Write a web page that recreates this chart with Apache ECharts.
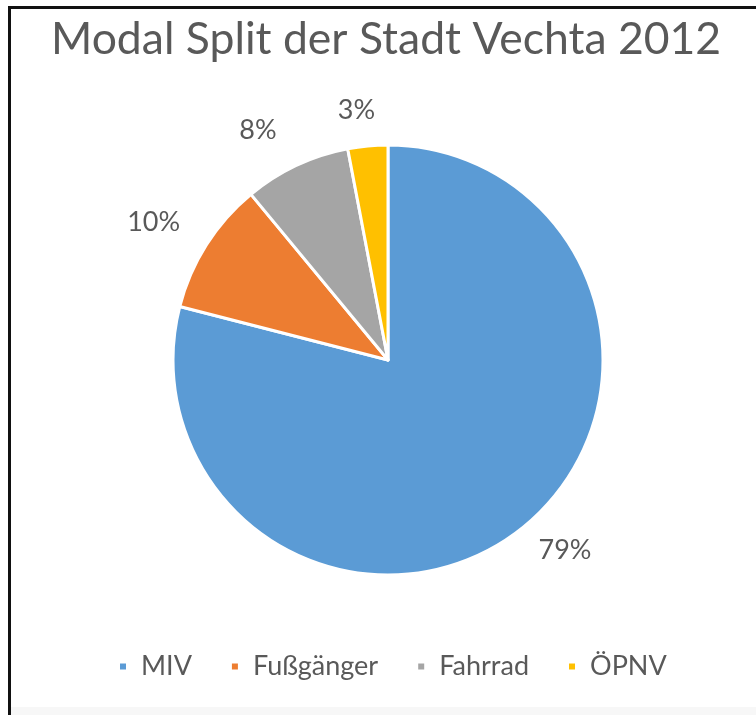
<!DOCTYPE html>
<html>
<head>
<meta charset="utf-8">
<script src="https://cdn.jsdelivr.net/npm/echarts@6/dist/echarts.min.js"></script>
<style>
html,body{margin:0;padding:0;background:#fff;}
#chart{width:756px;height:715px;}
</style>
</head>
<body>
<div id="chart"></div>
<script>
const titleText = 'Modal Split der Stadt Vechta 2012';
const categories = ['MIV', 'Fußgänger', 'Fahrrad', 'ÖPNV'];
const values = [79, 10, 8, 3];
const colors = ['#5B9BD5', '#ED7D31', '#A5A5A5', '#FFC000'];
// small label nudges (pixels) to mimic the spreadsheet's best-fit label placement
const labelNudgeX = [17, -14, -19, -7];
const labelNudgeY = [-16, 2, 6, 10];

const chart = echarts.init(document.getElementById('chart'));
const data = categories.map((c, i) => ({ name: c, value: values[i] }));

chart.setOption({
  animation: false,
  backgroundColor: '#ffffff',
  color: colors,
  title: {
    text: titleText,
    left: 46,
    top: 12,
    textStyle: { fontFamily: 'Lato', fontSize: 44.5, fontWeight: 'normal', color: '#595959' }
  },
  legend: {
    data: categories,
    left: 113,
    top: 648,
    icon: 'rect',
    itemWidth: 8,
    itemHeight: 8,
    itemGap: 38,
    textStyle: { fontFamily: 'Lato', fontSize: 27, color: '#595959', padding: [0, 0, 0, 9] }
  },
  graphic: [
    { type: 'rect', shape: { x: 9, y: 707, width: 747, height: 8 }, style: { fill: '#f7f7f7' } },
    { type: 'line', shape: { x1: 8, y1: 7.5, x2: 756, y2: 7.5 }, style: { stroke: '#111', lineWidth: 3 } },
    { type: 'line', shape: { x1: 9.5, y1: 6, x2: 9.5, y2: 715 }, style: { stroke: '#111', lineWidth: 3 } }
  ],
  series: [{
    type: 'pie',
    center: [388, 360],
    radius: 215,
    startAngle: 90,
    clockwise: true,
    avoidLabelOverlap: false,
    data: data,
    itemStyle: { borderColor: '#ffffff', borderWidth: 3 },
    label: {
      show: true,
      position: 'outside',
      formatter: p => Math.round(p.percent) + '%',
      fontFamily: 'Lato',
      fontSize: 27,
      color: '#595959',
      distanceToLabelLine: 0
    },
    labelLine: { show: false, length: 46, length2: 0 },
    labelLayout: p => ({
      align: 'center',
      verticalAlign: 'middle',
      dx: labelNudgeX[p.dataIndex],
      dy: labelNudgeY[p.dataIndex]
    }),
    emphasis: { disabled: true }
  }]
});
</script>
</body>
</html>
